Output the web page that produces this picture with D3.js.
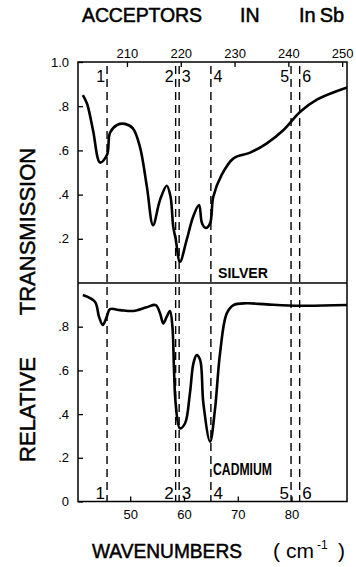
<!DOCTYPE html>
<html>
<head>
<meta charset="utf-8">
<script src="https://cdn.jsdelivr.net/npm/d3@7"></script>
<style>
  body { margin: 0; background: #fff; }
  svg { display: block; font-family: "Liberation Sans", Arial, sans-serif; }
  .axis text { font-size: 13px; fill: #000; }
  .axis line { stroke: #000; stroke-width: 1.3; }
  .heavy { stroke: #000; stroke-width: 0.5; }
</style>
</head>
<body>
<svg id="chart"></svg>
<script>
// silver-doped sample (upper panel)
const silverWn = [41.2, 42.0, 43.1, 44.4, 45.7, 46.25, 47.55, 49.0, 50.5, 51.8, 53.1, 54.25,
  55.55, 56.8, 57.5, 58.0, 58.45, 59.25, 60.5, 61.7, 62.8, 63.35, 64.05, 64.85, 65.45,
  67.0, 69.2, 72.3, 75.4, 78.5, 81.6, 84.7, 90.3];
const silverT = [0.85, 0.81, 0.69, 0.545, 0.58, 0.68, 0.715, 0.72, 0.70, 0.617, 0.436, 0.262,
  0.376, 0.44, 0.39, 0.255, 0.2, 0.096, 0.195, 0.30, 0.353, 0.27, 0.249, 0.27, 0.39,
  0.489, 0.564, 0.59, 0.632, 0.692, 0.775, 0.83, 0.885];

// cadmium-doped sample (lower panel)
const cadmiumWn = [41.2, 43.45, 44.2, 44.9, 45.65, 46.25, 48.1, 50.6, 53.05, 54.75, 55.55, 56.15,
  56.8, 57.4, 57.85, 58.15, 58.45, 59.25, 60.2, 61.1, 61.75, 62.35, 63.0, 63.6, 64.85,
  65.75, 66.7, 67.95, 69.2, 71.65, 75.4, 81.6, 90.3];
const cadmiumT = [0.945, 0.914, 0.846, 0.808, 0.846, 0.88, 0.876, 0.872, 0.889, 0.899, 0.861, 0.815,
  0.846, 0.872, 0.80, 0.60, 0.449, 0.335, 0.358, 0.495, 0.632, 0.67, 0.648, 0.45, 0.274,
  0.419, 0.678, 0.861, 0.899, 0.907, 0.902, 0.896, 0.899];

// acceptor lines
const lineWn = [45.7, 58.45, 59.1, 65.0, 79.9, 81.5];
const lineLabels = ["1", "2", "3", "4", "5", "6"];

const bottomTicks = [50, 60, 70, 80];
const topTicks = [210, 220, 230, 240, 250];
const upperYTicks = [0.2, 0.4, 0.6, 0.8, 1.0];
const lowerYTicks = [0, 0.2, 0.4, 0.6, 0.8];

const width = 356, height = 567;
const plotL = 78, plotR = 347, plotT = 62, plotMid = 283, plotB = 501.5;
const topShift = 160.6;

const svg = d3.select("#chart").attr("width", width).attr("height", height);

const x = d3.scaleLinear().domain([40.3, 90.3]).range([plotL, plotR]);
const xTop = d3.scaleLinear().domain([40.3 + topShift, 90.3 + topShift]).range([plotL, plotR]);
const yUp = d3.scaleLinear().domain([0, 1]).range([plotMid, plotT]);
const yLow = d3.scaleLinear().domain([0, 1]).range([plotB, plotMid]);

const fmtY = d => d === 1 ? "1.0" : d === 0 ? "0" : d3.format(".1f")(d).replace(/^0/, "");

// acceptor dashed lines
svg.append("g")
  .selectAll("line")
  .data(lineWn)
  .join("line")
  .attr("x1", d => x(d)).attr("x2", d => x(d))
  .attr("y1", plotT + 4).attr("y2", plotB)
  .attr("stroke", "#000")
  .attr("stroke-width", 1.4)
  .attr("stroke-dasharray", "8,5");

// frame
svg.append("rect")
  .attr("x", plotL).attr("y", plotT)
  .attr("width", plotR - plotL).attr("height", plotB - plotT)
  .attr("fill", "none").attr("stroke", "#000").attr("stroke-width", 1.5);
svg.append("line")
  .attr("x1", plotL).attr("x2", plotR).attr("y1", plotMid).attr("y2", plotMid)
  .attr("stroke", "#000").attr("stroke-width", 1.3);

// axes
const gBottom = svg.append("g").attr("class", "axis")
  .attr("transform", `translate(0,${plotB})`)
  .call(d3.axisBottom(x).tickValues(bottomTicks).tickSizeInner(-5).tickSizeOuter(0).tickPadding(8));
const gTop = svg.append("g").attr("class", "axis")
  .attr("transform", `translate(0,${plotT})`)
  .call(d3.axisTop(xTop).tickValues(topTicks).tickSizeInner(-5).tickSizeOuter(0).tickPadding(4));
const gLeftUp = svg.append("g").attr("class", "axis")
  .attr("transform", `translate(${plotL},0)`)
  .call(d3.axisLeft(yUp).tickValues(upperYTicks).tickFormat(fmtY).tickSizeInner(-5).tickSizeOuter(0).tickPadding(9));
const gLeftLow = svg.append("g").attr("class", "axis")
  .attr("transform", `translate(${plotL},0)`)
  .call(d3.axisLeft(yLow).tickValues(lowerYTicks).tickFormat(fmtY).tickSizeInner(-5).tickSizeOuter(0).tickPadding(9));
[gBottom, gTop, gLeftUp, gLeftLow].forEach(g => g.select(".domain").remove());

// curves
const line = d3.line().curve(d3.curveCatmullRom.alpha(0.5));
svg.append("path")
  .attr("d", line(silverWn.map((w, i) => [x(w), yUp(silverT[i])])))
  .attr("fill", "none").attr("stroke", "#000").attr("stroke-width", 2.6)
  .attr("stroke-linejoin", "round");
svg.append("path")
  .attr("d", line(cadmiumWn.map((w, i) => [x(w), yLow(cadmiumT[i])])))
  .attr("fill", "none").attr("stroke", "#000").attr("stroke-width", 2.6)
  .attr("stroke-linejoin", "round");

// line numbers, top and bottom
const leftSide = new Set(["1", "2", "5"]);
[[82, 16], [499, 17]].forEach(([yb, fs]) => {
  svg.append("g")
    .selectAll("text")
    .data(lineWn)
    .join("text")
    .attr("x", (d, i) => leftSide.has(lineLabels[i]) ? x(d) - 2 : x(d) + 2.5)
    .attr("y", yb)
    .attr("text-anchor", (d, i) => leftSide.has(lineLabels[i]) ? "end" : "start")
    .attr("font-size", fs)
    .text((d, i) => lineLabels[i]);
});

// sample labels
svg.append("text").attr("x", 218).attr("y", 278).attr("font-size", 14).attr("font-weight", "bold")
  .attr("textLength", 50).attr("lengthAdjust", "spacingAndGlyphs").text("SILVER");
svg.append("text").attr("x", 213).attr("y", 475).attr("font-size", 16).attr("font-weight", "bold")
  .attr("textLength", 59).attr("lengthAdjust", "spacingAndGlyphs").text("CADMIUM");

// title
svg.append("text").attr("class", "heavy").attr("x", 82).attr("y", 22).attr("font-size", 19.5)
  .attr("textLength", 120).attr("lengthAdjust", "spacing").text("ACCEPTORS");
svg.append("text").attr("class", "heavy").attr("x", 240).attr("y", 22).attr("font-size", 19.5)
  .text("IN");
const insb = svg.append("text").attr("class", "heavy").attr("x", 299).attr("y", 22).attr("font-size", 20);
insb.append("tspan").text("In");
insb.append("tspan").attr("dx", 4).text("Sb");

// y axis title
svg.append("text").attr("class", "heavy").attr("transform", "translate(35,231.5) rotate(-90)")
  .attr("text-anchor", "middle").attr("font-size", 22).text("TRANSMISSION");
svg.append("text").attr("class", "heavy").attr("transform", "translate(35,409.5) rotate(-90)")
  .attr("text-anchor", "middle").attr("font-size", 22).text("RELATIVE");

// x axis title
svg.append("text").attr("class", "heavy").attr("x", 92).attr("y", 558).attr("font-size", 20)
  .attr("textLength", 150).attr("lengthAdjust", "spacingAndGlyphs").text("WAVENUMBERS");
svg.append("text").attr("x", 273).attr("y", 558).attr("font-size", 21).text("(");
svg.append("text").attr("x", 286).attr("y", 558).attr("font-size", 21).text("cm");
svg.append("text").attr("x", 317).attr("y", 549).attr("font-size", 12).text("-1");
svg.append("text").attr("x", 338).attr("y", 558).attr("font-size", 21).text(")");
</script>
</body>
</html>
